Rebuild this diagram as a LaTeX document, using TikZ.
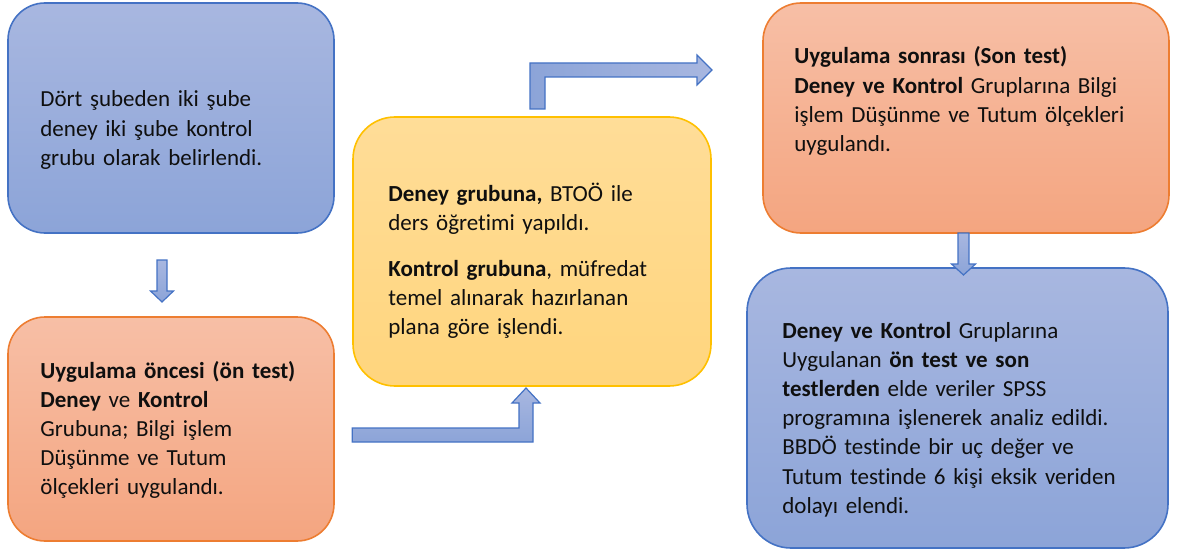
\documentclass[tikz,border=0pt]{standalone}
\usepackage{fontspec}
\setmainfont{Carlito}[Ligatures=NoCommon]
\usetikzlibrary{calc}
\definecolor{bluetop}{RGB}{168,183,224}
\definecolor{bluebot}{RGB}{140,164,216}
\definecolor{blueline}{HTML}{4472C4}
\definecolor{orangetop}{RGB}{247,191,166}
\definecolor{orangebot}{RGB}{244,165,128}
\definecolor{orangeline}{HTML}{ED7D31}
\definecolor{yellowtop}{RGB}{255,221,152}
\definecolor{yellowbot}{RGB}{255,213,125}
\definecolor{yellowline}{HTML}{FFC000}
\definecolor{txt}{RGB}{15,15,15}
\tikzset{
  basebox/.style={draw, line width=0.8pt, inner sep=0pt, rectangle},
  bluebox/.style={basebox, draw=blueline, top color=bluetop, bottom color=bluebot},
  orangebox/.style={basebox, draw=orangeline, top color=orangetop, bottom color=orangebot},
  yellowbox/.style={basebox, draw=yellowline, top color=yellowtop, bottom color=yellowbot},
  boxtext/.style={anchor=base west, inner sep=0pt, text width=200pt, align=left,
    font=\fontsize{11.5pt}{14.6pt}\selectfont, text=txt},
  blockarrow/.style={draw=blueline, line width=0.6pt, line join=miter},
  vshade/.style={top color=bluetop, bottom color=bluebot},
  hshade/.style={left color=bluebot, right color=bluetop}
}
\begin{document}
\begin{tikzpicture}[x=0.5pt, y=-0.5pt]
\useasboundingbox (0,0) rectangle (1179,551);

% boxes
\node[bluebox, minimum width=163pt, minimum height=115pt, rounded corners=18.5pt] (b1) at (171,118) {};
\node[orangebox, minimum width=163pt, minimum height=112pt, rounded corners=18.5pt] (b2) at (171,429) {};
\node[yellowbox, minimum width=179pt, minimum height=134.5pt, rounded corners=21pt] (b3) at (532,251.5) {};
\node[orangebox, minimum width=203pt, minimum height=115pt, rounded corners=19pt] (b4) at (966,118) {};
\node[bluebox, minimum width=210.5pt, minimum height=140pt, rounded corners=22pt] (b5) at (957.5,408) {};

% texts
\node[boxtext] (t1) at (40,107) {Dört şubeden iki şube\\deney iki şube kontrol\\grubu olarak belirlendi.};
\node[boxtext] (t2) at (40,378) {\textbf{Uygulama öncesi (ön test)}\\\textbf{Deney} ve \textbf{Kontrol}\\Grubuna; Bilgi işlem\\Düşünme ve Tutum\\ölçekleri uygulandı.};
\node[boxtext] (t3) at (388,201) {\textbf{Deney grubuna,} BTOÖ ile\\ders öğretimi yapıldı.\\[8.5pt]\textbf{Kontrol grubuna}, müfredat\\temel alınarak hazırlanan\\plana göre işlendi.};
\node[boxtext] (t4) at (794,64) {\textbf{Uygulama sonrası (Son test)}\\\textbf{Deney ve Kontrol} Gruplarına Bilgi\\işlem Düşünme ve Tutum ölçekleri\\uygulandı.};
\node[boxtext] (t5) at (782,338) {\textbf{Deney ve Kontrol} Gruplarına\\Uygulanan \textbf{ön test ve son}\\\textbf{testlerden} elde veriler SPSS\\programına işlenerek analiz edildi.\\BBDÖ testinde bir uç değer ve\\Tutum testinde 6 kişi eksik veriden\\dolayı elendi.};

% block arrows
\coordinate (a1) at (162,260);
\path[blockarrow, vshade] ($(a1)+(-5,0)$) -- ($(a1)+(5,0)$) -- ($(a1)+(5,31)$) -- ($(a1)+(11.5,31)$)
  -- ($(a1)+(0,42)$) -- ($(a1)+(-11.5,31)$) -- ($(a1)+(-5,31)$) -- cycle;

\coordinate (a2) at (963.5,233);
\path[blockarrow, vshade] ($(a2)+(-5.5,0)$) -- ($(a2)+(5.5,0)$) -- ($(a2)+(5.5,31)$) -- ($(a2)+(12,31)$)
  -- ($(a2)+(0,42)$) -- ($(a2)+(-12,31)$) -- ($(a2)+(-5.5,31)$) -- cycle;

% bent arrow from b2 up into b3
\path[blockarrow, vshade] (b3.west |- 0,428) -- (519,428) -- (519,403) -- (512,403) -- (526,388)
  -- (540,403) -- (533,403) -- (533,442) -- (b3.west |- 0,442) -- cycle;

% bent arrow from b3 to b4
\path[blockarrow, hshade] (530,109) -- (530,63) -- (697,63) -- (697,55) -- (712,70)
  -- (697,85) -- (697,77) -- (545,77) -- (545,109) -- cycle;
\end{tikzpicture}
\end{document}
